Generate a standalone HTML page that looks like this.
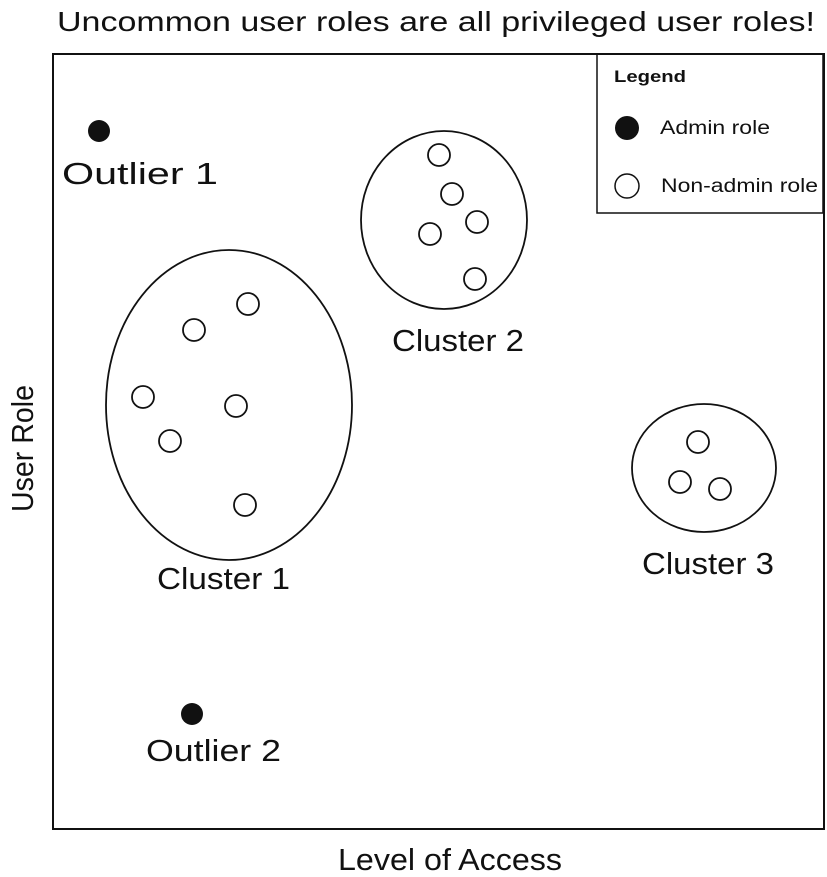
<!DOCTYPE html>
<html><head><style>
html,body{margin:0;padding:0;background:#fff;}
svg{display:block;font-family:"Liberation Sans",sans-serif;}
</style></head><body>
<svg width="827" height="877" viewBox="0 0 827 877" xmlns="http://www.w3.org/2000/svg">
<text x="57" y="31" font-size="28" textLength="758" lengthAdjust="spacingAndGlyphs" fill="#111">Uncommon user roles are all privileged user roles!</text>
<rect x="53" y="54" width="771" height="775" fill="none" stroke="#111" stroke-width="2"/>
<rect x="597" y="54" width="226" height="159" fill="none" stroke="#111" stroke-width="1.5"/>
<text x="614" y="82" font-size="17" font-weight="bold" textLength="72" lengthAdjust="spacingAndGlyphs" fill="#111">Legend</text>
<circle cx="627" cy="128" r="12" fill="#111"/>
<text x="660" y="134" font-size="19" textLength="110" lengthAdjust="spacingAndGlyphs" fill="#111">Admin role</text>
<circle cx="627" cy="186" r="12" fill="#fff" stroke="#111" stroke-width="1.5"/>
<text x="661" y="192" font-size="19" textLength="157" lengthAdjust="spacingAndGlyphs" fill="#111">Non-admin role</text>
<g fill="#111" font-size="31">
<text x="62" y="184" textLength="156" lengthAdjust="spacingAndGlyphs">Outlier 1</text>
<text x="146" y="761" textLength="135" lengthAdjust="spacingAndGlyphs">Outlier 2</text>
<text x="157" y="589" textLength="133" lengthAdjust="spacingAndGlyphs">Cluster 1</text>
<text x="392" y="351" textLength="132" lengthAdjust="spacingAndGlyphs">Cluster 2</text>
<text x="642" y="574" textLength="132" lengthAdjust="spacingAndGlyphs">Cluster 3</text>
<text x="338" y="870" textLength="224" lengthAdjust="spacingAndGlyphs">Level of Access</text>
<text x="33" y="512" transform="rotate(-90 33 512)" textLength="127" lengthAdjust="spacingAndGlyphs">User Role</text>
</g>
<circle cx="99" cy="131" r="11" fill="#111"/>
<circle cx="192" cy="714" r="11" fill="#111"/>
<g fill="none" stroke="#111" stroke-width="1.8">
<ellipse cx="229" cy="405" rx="123" ry="155"/>
<ellipse cx="444" cy="220" rx="83" ry="89"/>
<ellipse cx="704" cy="468" rx="72" ry="64"/>
</g>
<g fill="#fff" stroke="#111" stroke-width="1.8">
<circle cx="248" cy="304" r="11"/>
<circle cx="194" cy="330" r="11"/>
<circle cx="143" cy="397" r="11"/>
<circle cx="236" cy="406" r="11"/>
<circle cx="170" cy="441" r="11"/>
<circle cx="245" cy="505" r="11"/>
<circle cx="439" cy="155" r="11"/>
<circle cx="452" cy="194" r="11"/>
<circle cx="477" cy="222" r="11"/>
<circle cx="430" cy="234" r="11"/>
<circle cx="475" cy="279" r="11"/>
<circle cx="698" cy="442" r="11"/>
<circle cx="680" cy="482" r="11"/>
<circle cx="720" cy="489" r="11"/>
</g>
</svg>
</body></html>
